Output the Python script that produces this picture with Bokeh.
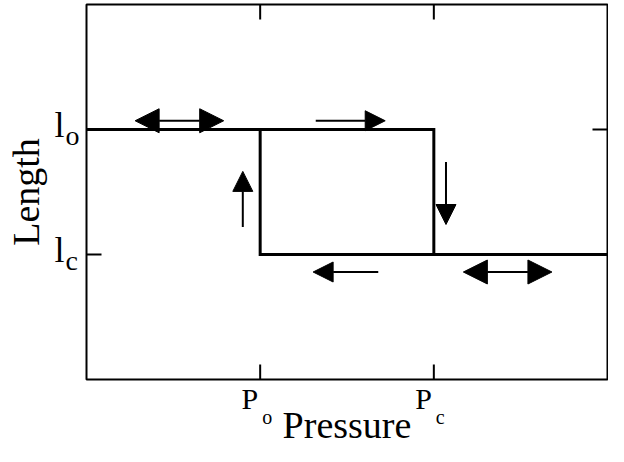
import math
from bokeh.plotting import figure
from bokeh.models import Arrow, NormalHead, ColumnDataSource
from bokeh.core.properties import value
from bokeh.embed import file_html
from bokeh.resources import INLINE

# ---------------- data ----------------
pressure_extent = [0, 3]          # left / right edge of the plot box
length_extent = [0, 3]            # bottom / top edge of the plot box
pressure_ticks = [1, 2]
pressure_tick_main = ["P", "P"]
pressure_tick_sub = ["o", "c"]
length_ticks = [2, 1]
length_tick_main = ["l", "l"]
length_tick_sub = ["o", "c"]

# length-pressure path (outer branch and inner branch)
outer_pressure = [0, 2, 2, 3]
outer_length = [2, 2, 1, 1]
inner_pressure = [1, 1, 2]
inner_length = [2, 1, 1]

# double-headed arrows (reversible regions)
double_x_start = [0.28, 2.17]
double_x_end = [0.79, 2.68]
double_y = [2.07, 0.86]

# single-headed arrows (direction of travel)
single_x_start = [1.32, 2.07, 0.90, 1.68]
single_x_end = [1.72, 2.07, 0.90, 1.305]
single_y_start = [2.07, 1.74, 1.22, 0.86]
single_y_end = [2.07, 1.24, 1.665, 0.86]

FONT = value("Liberation Serif")
W, H = 608, 446
# pixel placement of the plot box inside the canvas
BOX_L, BOX_R, BOX_T, BOX_B = 86, 607, 4, 379
px_x = (BOX_R - BOX_L) / (pressure_extent[1] - pressure_extent[0])
px_y = (BOX_B - BOX_T) / (length_extent[1] - length_extent[0])
x_range = (pressure_extent[0] - BOX_L / px_x, pressure_extent[1] + (W - BOX_R) / px_x)
y_range = (length_extent[0] - (H - BOX_B) / px_y, length_extent[1] + BOX_T / px_y)


def dx(px):
    return px / px_x


def dy(px):
    return px / px_y


def base(px_below, size):
    # baseline position (pixels below a reference) -> data offset,
    # compensating the renderer's text anchor
    return dy(px_below - 0.34 * size)


p = figure(width=W, height=H, x_range=x_range, y_range=y_range,
           output_backend="svg", toolbar_location=None,
           min_border=0, x_axis_location=None, y_axis_location=None)
p.grid.visible = False
p.outline_line_color = None
p.background_fill_color = "white"
p.border_fill_color = "white"

x0, x1 = pressure_extent
y0, y1 = length_extent
# plot box
p.quad(left=[x0], right=[x1], bottom=[y0], top=[y1], fill_color=None,
       line_color="black", line_width=2)

# inward tick marks on all four sides
TL = 15
n = len(pressure_ticks)
p.segment(x0=pressure_ticks * 2, x1=pressure_ticks * 2,
          y0=[y0] * n + [y1] * n,
          y1=[y0 + dy(TL)] * n + [y1 - dy(TL)] * n,
          line_color="black", line_width=2)
m = len(length_ticks)
p.segment(x0=[x0] * m + [x1] * m,
          x1=[x0 + dx(TL)] * m + [x1 - dx(TL)] * m,
          y0=length_ticks * 2, y1=length_ticks * 2,
          line_color="black", line_width=2)

# the path
p.line(outer_pressure, outer_length, line_color="black", line_width=3,
       line_join="miter")
p.line(inner_pressure, inner_length, line_color="black", line_width=3,
       line_join="miter")

# arrows
dsrc = ColumnDataSource(dict(x0=double_x_start, x1=double_x_end,
                             y0=double_y, y1=double_y))
p.add_layout(Arrow(source=dsrc, x_start="x0", x_end="x1", y_start="y0",
                   y_end="y1", line_width=2, line_color="black",
                   start=NormalHead(size=24, fill_color="black",
                                    line_color="black"),
                   end=NormalHead(size=24, fill_color="black",
                                  line_color="black")))
ssrc = ColumnDataSource(dict(x0=single_x_start, x1=single_x_end,
                             y0=single_y_start, y1=single_y_end))
p.add_layout(Arrow(source=ssrc, x_start="x0", x_end="x1", y_start="y0",
                   y_end="y1", line_width=2, line_color="black",
                   end=NormalHead(size=20, fill_color="black",
                                  line_color="black")))

# tick labels (with subscripts)
p.text(x=[x0 - dx(22)] * m, y=[t - base(8, 36) for t in length_ticks],
       text=length_tick_main, text_font=FONT, text_font_size="36px",
       text_align="right", text_baseline="alphabetic", text_color="black")
p.text(x=[x0 - dx(21)] * m, y=[t - base(15.5, 28) for t in length_ticks],
       text=length_tick_sub, text_font=FONT, text_font_size="28px",
       text_align="left", text_baseline="alphabetic", text_color="black")
p.text(x=[t - dx(2) for t in pressure_ticks], y=[y0 - base(29, 30)] * n,
       text=pressure_tick_main, text_font=FONT, text_font_size="30px",
       text_align="right", text_baseline="alphabetic", text_color="black")
p.text(x=[t + dx(2) for t in pressure_ticks], y=[y0 - base(44, 20)] * n,
       text=pressure_tick_sub, text_font=FONT, text_font_size="20px",
       text_align="left", text_baseline="alphabetic", text_color="black")

# axis titles
p.text(x=[(x0 + x1) / 2], y=[y0 - base(58, 38)], text=["Pressure"],
       text_font=FONT, text_font_size="38px", text_align="center",
       text_baseline="alphabetic", text_color="black")
p.text(x=[x0 - dx(48 + 0.34 * 38)], y=[(y0 + y1) / 2], text=["Length"],
       text_font=FONT, text_font_size="38px", text_align="center",
       text_baseline="alphabetic", angle=math.pi / 2, text_color="black")

open("out.html", "w").write(file_html(p, INLINE))
